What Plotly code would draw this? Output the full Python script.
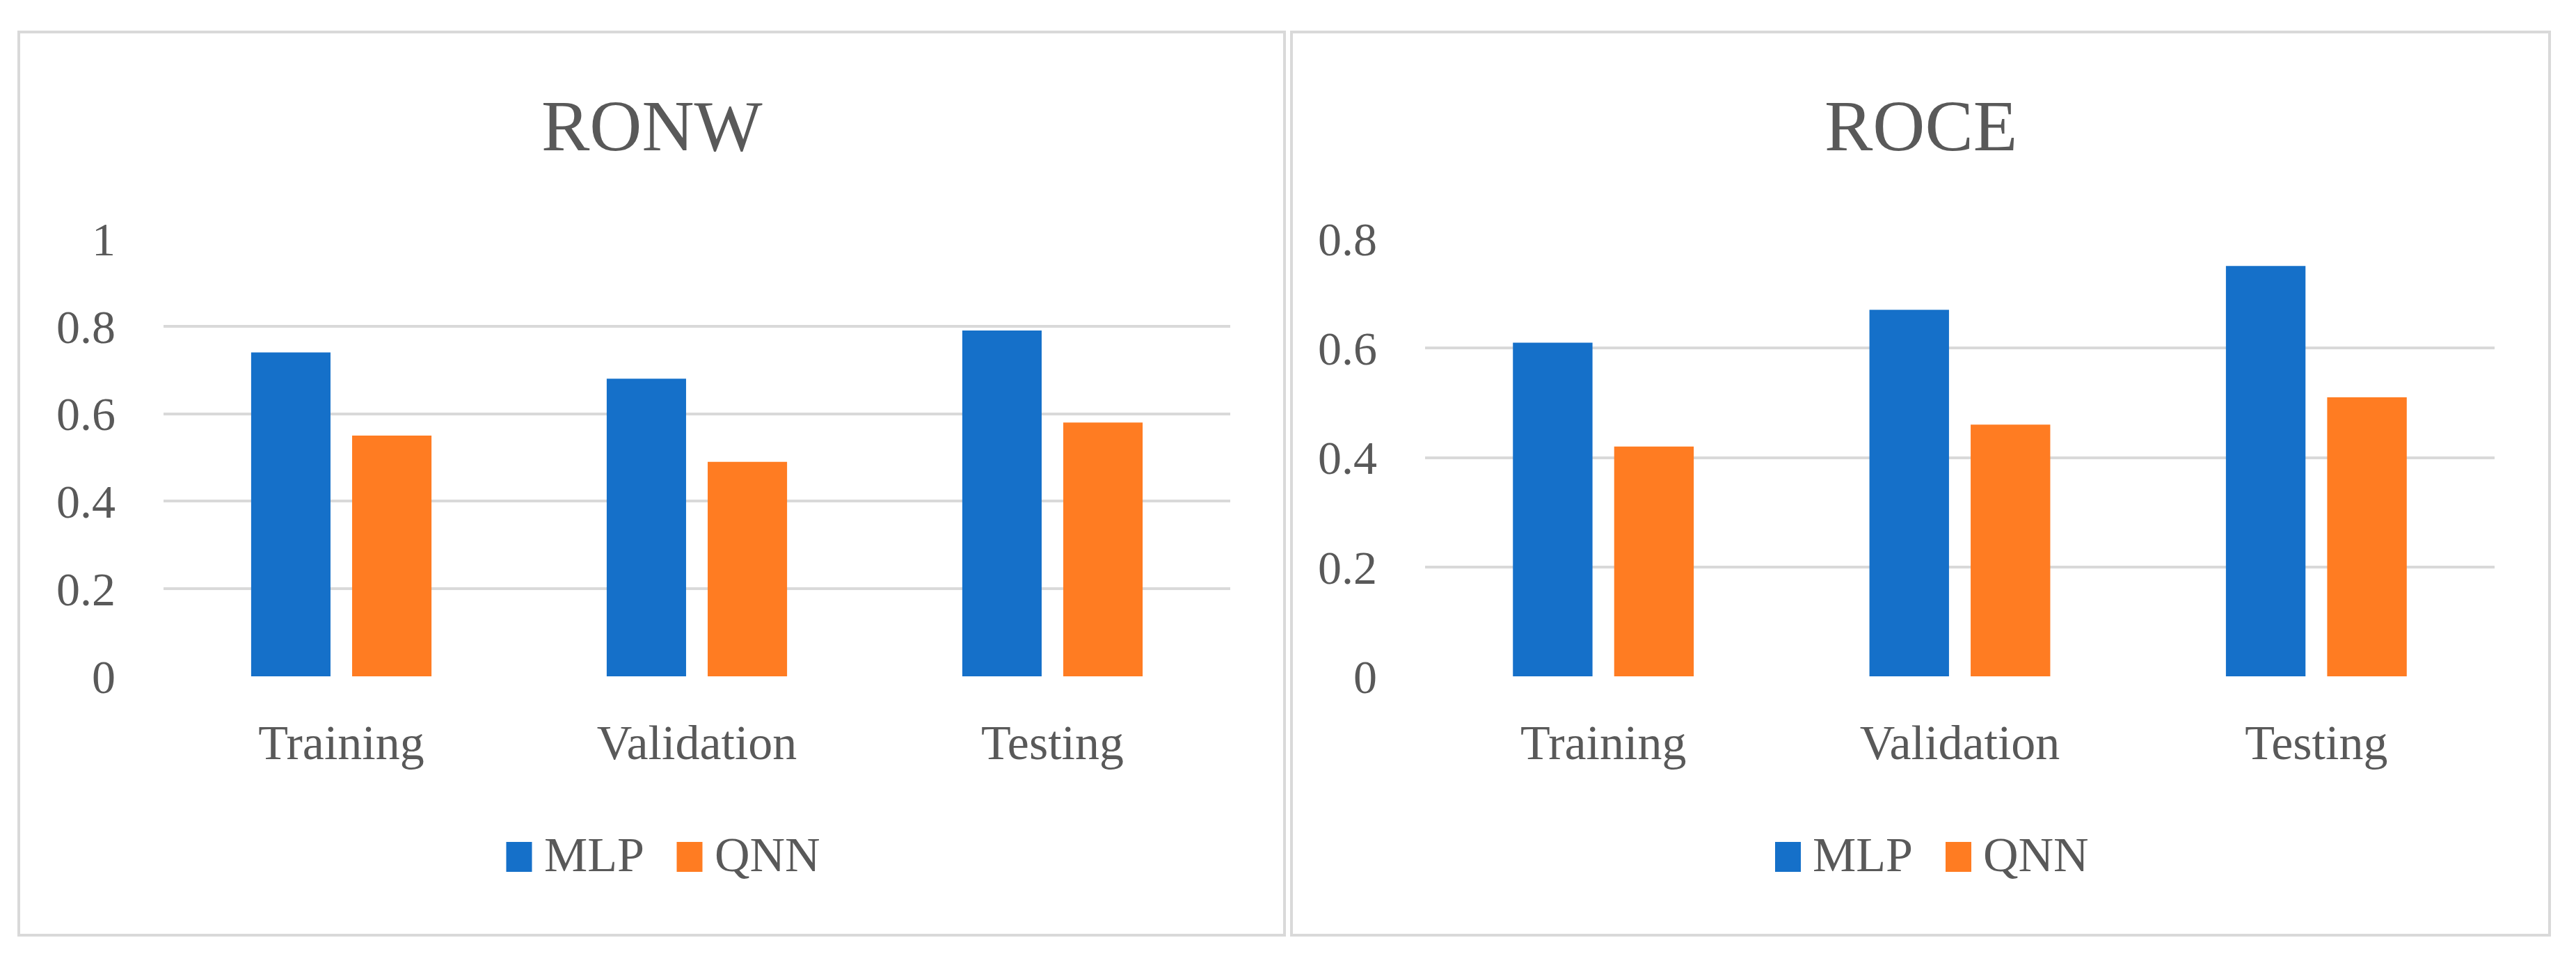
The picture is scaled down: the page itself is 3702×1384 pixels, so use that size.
import plotly.graph_objects as go

W, H = 3702, 1384

categories = ["Training", "Validation", "Testing"]
series_names = ["MLP", "QNN"]
ronw_mlp = [0.74, 0.68, 0.79]
ronw_qnn = [0.55, 0.49, 0.58]
roce_mlp = [0.61, 0.67, 0.75]
roce_qnn = [0.42, 0.46, 0.51]
ronw_ticks = [0, 0.2, 0.4, 0.6, 0.8, 1]
ronw_ticklabels = ["0", "0.2", "0.4", "0.6", "0.8", "1"]
roce_ticks = [0, 0.2, 0.4, 0.6, 0.8]
roce_ticklabels = ["0", "0.2", "0.4", "0.6", "0.8"]
titles = ["RONW", "ROCE"]

colors = ["#1570C9", "#FF7C22"]
text_color = "#595959"
grid_color = "#D9D9D9"
FONT = "Book Antiqua, Palatino Linotype, Palatino, Liberation Serif, serif"


def px(x):
    return x / W


def py(y):
    return 1 - y / H


fig = go.Figure()

panels = [
    dict(xa="x", ya="y", data=[ronw_mlp, ronw_qnn], ticks=ronw_ticks,
         labels=ronw_ticklabels, rng=[0, 1], plot=(227, 1760),
         box=(19, 1838), title=titles[0]),
    dict(xa="x2", ya="y2", data=[roce_mlp, roce_qnn], ticks=roce_ticks,
         labels=roce_ticklabels, rng=[0, 0.8], plot=(2040, 3577),
         box=(1848, 3656), title=titles[1]),
]

shapes = []
annotations = []

for i, p in enumerate(panels):
    for name, vals, col in zip(series_names, p["data"], colors):
        fig.add_trace(go.Bar(
            x=categories, y=vals, name=name, marker=dict(color=col, line=dict(width=0)),
            xaxis=p["xa"], yaxis=p["ya"], showlegend=False,
        ))
    # panel border
    shapes.append(dict(type="rect", xref="paper", yref="paper",
                       x0=px(p["box"][0]), x1=px(p["box"][1]),
                       y0=py(1336), y1=py(38),
                       line=dict(color=grid_color, width=4), layer="below"))
    cx = (p["box"][0] + p["box"][1]) / 2
    annotations.append(dict(text=p["title"], xref="paper", yref="paper",
                            x=px(cx), y=py(172), xanchor="center", yanchor="middle",
                            showarrow=False,
                            font=dict(family=FONT, size=104, color=text_color)))
    # legend (swatch + label per series)
    start = cx - 209
    offsets = [0, 245]
    for name, col, off in zip(series_names, colors, offsets):
        x0 = start + off
        shapes.append(dict(type="rect", xref="paper", yref="paper",
                           x0=px(x0), x1=px(x0 + 37), y0=py(1245), y1=py(1202),
                           fillcolor=col, line=dict(width=0)))
        annotations.append(dict(text=name, xref="paper", yref="paper",
                                x=px(x0 + 52), y=py(1220), xanchor="left",
                                yanchor="middle", showarrow=False,
                                font=dict(family=FONT, size=70, color=text_color)))

axis_common_x = dict(showgrid=False, showline=False, zeroline=False, ticks="",
                     tickfont=dict(family=FONT, size=70, color=text_color),
                     ticklabelstandoff=48, fixedrange=True, automargin=False)
axis_common_y = dict(showgrid=True, gridcolor=grid_color, gridwidth=4,
                     showline=False, zeroline=False, ticks="",
                     tickfont=dict(family=FONT, size=68, color=text_color),
                     ticklabelstandoff=68, fixedrange=True, automargin=False)

fig.update_layout(
    width=W, height=H,
    margin=dict(l=0, r=0, t=0, b=0, pad=0, autoexpand=False),
    paper_bgcolor="white", plot_bgcolor="white",
    barmode="group", bargap=0.432, bargroupgap=0.214,
    showlegend=False,
    xaxis=dict(domain=[px(227), px(1760)], anchor="y", **axis_common_x),
    yaxis=dict(domain=[py(964), py(335)], anchor="x", range=[0, 1],
               tickvals=ronw_ticks, ticktext=ronw_ticklabels, **axis_common_y),
    xaxis2=dict(domain=[px(2040), px(3577)], anchor="y2", **axis_common_x),
    yaxis2=dict(domain=[py(964), py(335)], anchor="x2", range=[0, 0.8],
                tickvals=roce_ticks, ticktext=roce_ticklabels, **axis_common_y),
    shapes=shapes,
    annotations=annotations,
)

fig.write_html("out.html")
